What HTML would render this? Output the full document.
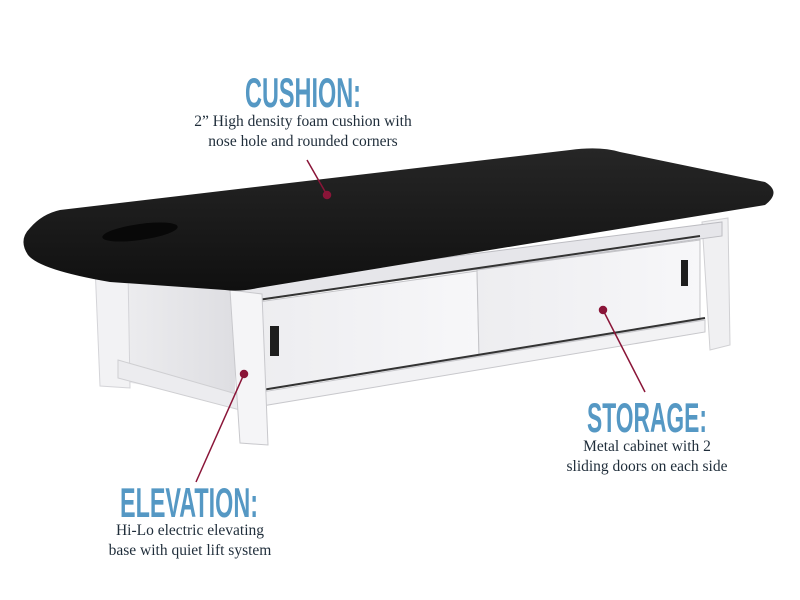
<!DOCTYPE html>
<html><head><meta charset="utf-8"><style>
html,body{margin:0;padding:0;background:#fff;width:800px;height:600px;overflow:hidden}
</style></head><body>
<svg width="800" height="600" viewBox="0 0 800 600" xmlns="http://www.w3.org/2000/svg">
<defs>
<linearGradient id="cush" x1="0" y1="0" x2="0" y2="1"><stop offset="0" stop-color="#262626"/><stop offset="1" stop-color="#101010"/></linearGradient>
<linearGradient id="pan" x1="0" y1="0" x2="1" y2="0"><stop offset="0" stop-color="#ededf0"/><stop offset="1" stop-color="#f7f7f9"/></linearGradient>
<linearGradient id="side" x1="0" y1="0" x2="1" y2="0"><stop offset="0" stop-color="#f0f0f2"/><stop offset="1" stop-color="#dedee2"/></linearGradient>
</defs>
<!-- left side panel -->
<polygon points="95,265 235,290 235,400 100,378" fill="url(#side)"/>
<polygon points="95,265 128,270 130,388 100,386" fill="#f2f2f4" stroke="#d4d4d8"/>
<polygon points="118,360 240,395 240,410 118,378" fill="#ececef" stroke="#cfcfd2"/>
<!-- right leg -->
<polygon points="702,222 728,218 730,345 710,350" fill="#f0f0f2" stroke="#d0d0d3"/>
<!-- cabinet upper rail -->
<polygon points="238,284 722,222 722,236 238,302" fill="#e6e6ea" stroke="#bdbdc2"/>
<line x1="258" y1="300" x2="700" y2="236" stroke="#333" stroke-width="2"/>
<!-- cabinet front panels -->
<polygon points="258,302 477,271 479,356 262,390" fill="url(#pan)" stroke="#c4c4c8"/>
<polygon points="477,270 700,240 700,320 479,356" fill="url(#pan)" stroke="#c4c4c8"/>
<rect x="270" y="326" width="9" height="30" fill="#1e1e1e"/>
<rect x="681" y="260" width="7" height="26" fill="#1e1e1e"/>
<!-- bottom rail -->
<line x1="262" y1="390" x2="705" y2="318" stroke="#333" stroke-width="2"/>
<polygon points="262,392 705,320 705,332 262,406" fill="#f2f2f4" stroke="#c8c8cc"/>
<!-- front leg -->
<polygon points="230,290 262,294 268,445 240,443" fill="#f5f5f7" stroke="#c8c8cc"/>
<!-- cushion -->
<path d="M60,210 L570,150 Q600,146 620,152 L765,182 Q782,192 765,205 L258,288 Q240,292 225,290 L110,282 Q40,270 28,255 Q18,240 30,228 Q42,214 60,210 Z" fill="url(#cush)"/>
<ellipse cx="140" cy="232" rx="38" ry="8" fill="#080808" transform="rotate(-8 140 232)"/>
<!-- connectors -->
<g stroke="#8a1538" stroke-width="1.5" fill="#8a1538">
<line x1="307" y1="160" x2="327" y2="195"/><circle cx="327" cy="195" r="3.5"/>
<line x1="603" y1="310" x2="645" y2="392"/><circle cx="603" cy="310" r="3.5"/>
<line x1="244" y1="374" x2="196" y2="482"/><circle cx="244" cy="374" r="3.5"/>
</g>
<!-- labels -->
<g font-family="Liberation Sans, sans-serif" font-weight="bold" fill="#5598c4" font-size="42">
<text x="245" y="107" textLength="116" lengthAdjust="spacingAndGlyphs">CUSHION:</text>
<text x="587" y="432" textLength="120" lengthAdjust="spacingAndGlyphs">STORAGE:</text>
<text x="120" y="517" textLength="138" lengthAdjust="spacingAndGlyphs">ELEVATION:</text>
</g>
<g font-family="Liberation Serif, serif" fill="#1f2d3a" font-size="15.5" text-anchor="middle">
<text x="303" y="126">2” High density foam cushion with</text>
<text x="303" y="146">nose hole and rounded corners</text>
<text x="647" y="451">Metal cabinet with 2</text>
<text x="647" y="471">sliding doors on each side</text>
<text x="190" y="535">Hi-Lo electric elevating</text>
<text x="190" y="555">base with quiet lift system</text>
</g>
</svg>
</body></html>
